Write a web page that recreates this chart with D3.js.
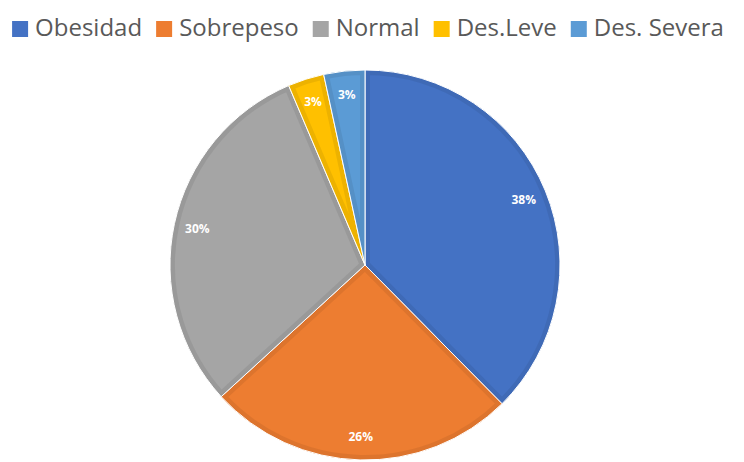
<!DOCTYPE html>
<html>
<head>
<meta charset="utf-8">
<script src="https://cdn.jsdelivr.net/npm/d3@7"></script>
<style>
  body { margin: 0; background: #fff; }
  svg { display: block; }
</style>
</head>
<body>
<svg id="chart" width="744" height="462"></svg>
<script>
const categories = ['Obesidad', 'Sobrepeso', 'Normal', 'Des.Leve', 'Des. Severa'];
const values = [37.6, 25.6, 30.4, 3.0, 3.4];
const colors = ['#4472C4', '#ED7D31', '#A5A5A5', '#FFC000', '#5B9BD5'];

const w = 744, h = 462;
const cx = 365, cy = 265, r = 195;

const svg = d3.select('#chart');

// legend, laid out left to right and centred
const legend = svg.append('g').attr('class', 'legend');
const items = legend.selectAll('g')
  .data(categories)
  .join('g');

items.append('rect')
  .attr('width', 16)
  .attr('height', 16)
  .attr('y', 21)
  .attr('fill', (d, i) => colors[i]);

items.append('text')
  .attr('x', 23)
  .attr('y', 36)
  .attr('font-family', 'Open Sans')
  .attr('font-size', 24)
  .attr('fill', '#595959')
  .text(d => d);

let xPos = 0;
const gap = 14;
items.each(function() {
  const tw = d3.select(this).select('text').node().getComputedTextLength();
  d3.select(this).attr('transform', `translate(${xPos},0)`);
  xPos += 23 + tw + gap;
});
const legendW = xPos - gap;
legend.attr('transform', `translate(${368 - legendW / 2},0)`);

// pie
const pie = d3.pie().sort(null).value(d => d);
const arcs = pie(values);
const arc = d3.arc().innerRadius(0).outerRadius(r);
const labelArc = d3.arc().innerRadius(r * 0.88).outerRadius(r * 0.88);
const pctFmt = d3.format('.0%');
const total = d3.sum(values);

const g = svg.append('g').attr('transform', `translate(${cx},${cy})`);
const defs = svg.append('defs');

defs.selectAll('clipPath')
  .data(arcs)
  .join('clipPath')
  .attr('id', (d, i) => `clip${i}`)
  .append('path')
  .attr('d', arc);

const slices = g.selectAll('g.slice')
  .data(arcs)
  .join('g')
  .attr('class', 'slice');

slices.append('path')
  .attr('d', arc)
  .attr('fill', (d, i) => colors[i]);

// soft inner bevel like the office chart style
slices.append('path')
  .attr('d', arc)
  .attr('fill', 'none')
  .attr('clip-path', (d, i) => `url(#clip${i})`)
  .attr('stroke', (d, i) => d3.color(colors[i]).darker(0.3))
  .attr('stroke-opacity', 0.7)
  .attr('stroke-width', 10);

slices.append('path')
  .attr('d', arc)
  .attr('fill', 'none')
  .attr('stroke', '#fff')
  .attr('stroke-width', 1);

g.selectAll('text.lbl')
  .data(arcs)
  .join('text')
  .attr('class', 'lbl')
  .attr('transform', d => `translate(${labelArc.centroid(d)})`)
  .attr('text-anchor', 'middle')
  .attr('dy', '0.35em')
  .attr('font-family', 'Open Sans')
  .attr('font-weight', 'bold')
  .attr('font-size', 12)
  .attr('fill', '#fff')
  .text(d => pctFmt(d.data / total));
</script>
</body>
</html>
